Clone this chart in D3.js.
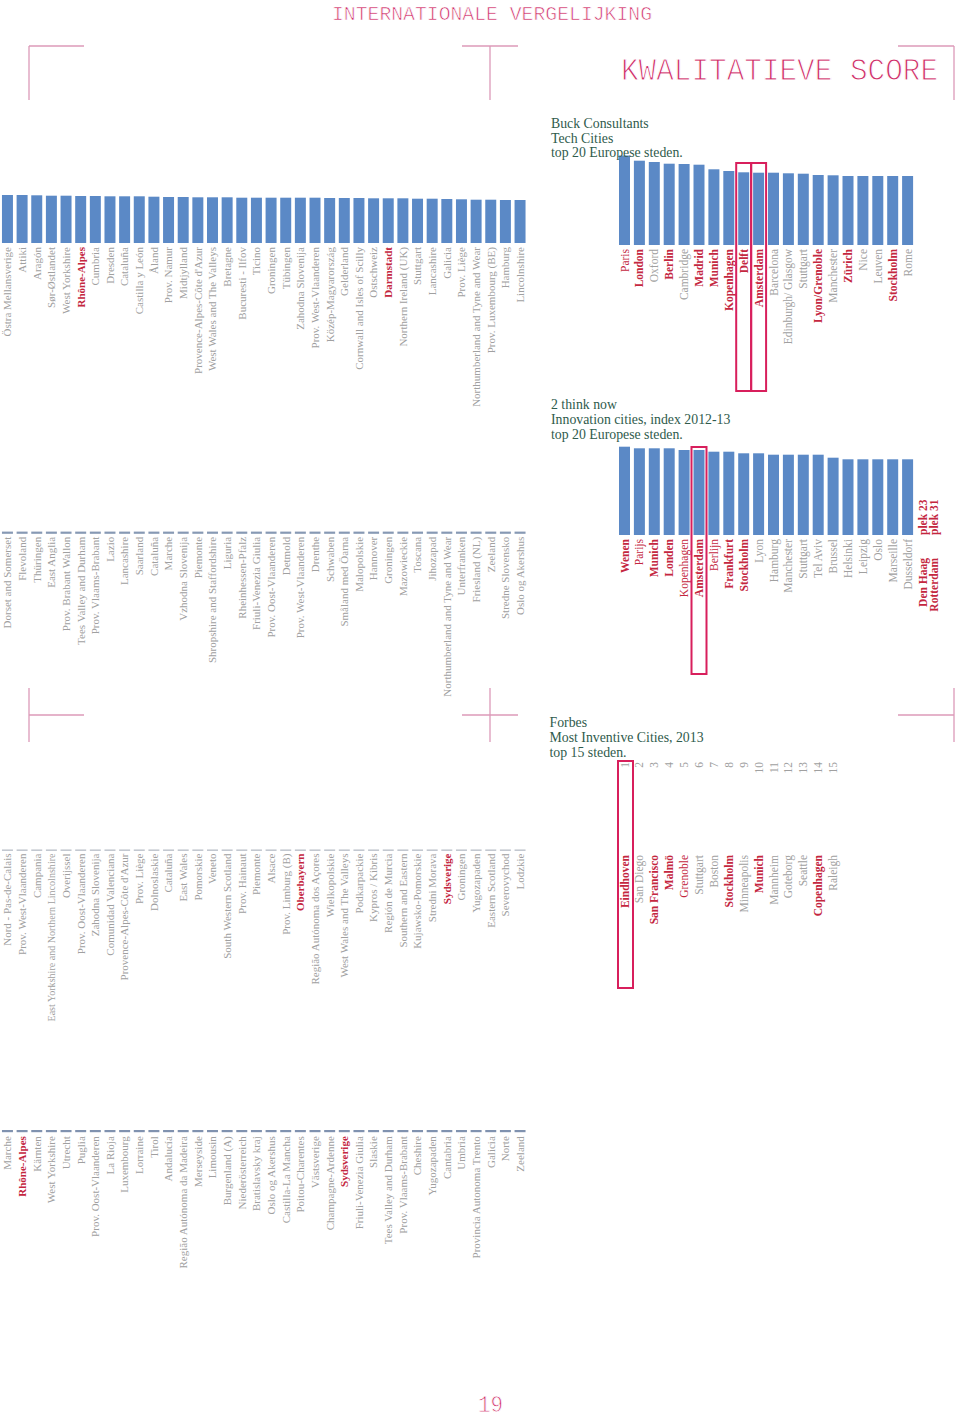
<!DOCTYPE html>
<html><head><meta charset="utf-8">
<script src="https://cdn.jsdelivr.net/npm/d3@7"></script>
<style>body{margin:0;background:#fff} svg{display:block}</style>
</head><body>
<script>
// ---------------- DATA ----------------
const row1Labels = ["Östra Mellansverige","Attiki","Aragón","Sør-Østlandet","West Yorkshire","Rhône-Alpes","Cumbria","Dresden","Cataluña","Castilla y León","Åland","Prov. Namur","Midtjylland","Provence-Alpes-Côte d'Azur","West Wales and The Valleys","Bretagne","Bucuresti - Ilfov","Ticino","Groningen","Tübingen","Zahodna Slovenija","Prov. West-Vlaanderen","Közép-Magyarország","Gelderland","Cornwall and Isles of Scilly","Ostschweiz","Darmstadt","Northern Ireland (UK)","Stuttgart","Lancashire","Galicia","Prov. Liège","Northumberland and Tyne and Wear","Prov. Luxembourg (BE)","Hamburg","Lincolnshire"];
const row1Values = [48,48,47.7,47.3,47.3,47,47,46.7,46.7,46.7,46.3,46,46,45.7,45.7,45.7,45.3,45.3,45.3,45.3,45.3,45.3,45,45,45,44.7,44.7,44.7,44.3,44.3,44,43.7,43.3,43.3,43,43];

const row2Labels = ["Dorset and Somerset","Flevoland","Thüringen","East Anglia","Prov. Brabant Wallon","Tees Valley and Durham","Prov. Vlaams-Brabant","Lazio","Lancashire","Saarland","Cataluña","Marche","Vzhodna Slovenija","Piemonte","Shropshire and Staffordshire","Liguria","Rheinhessen-Pfalz","Friuli-Venezia Giulia","Prov. Oost-Vlaanderen","Detmold","Prov. West-Vlaanderen","Drenthe","Schwaben","Småland med Öarna","Malopolskie","Hannover","Groningen","Mazowieckie","Toscana","Jihozapad","Northumberland and Tyne and Wear","Unterfranken","Friesland (NL)","Zeeland","Stredne Slovensko","Oslo og Akershus"];
const row2Values = [2.2,2.2,2.2,2.2,2.2,2.2,2.2,2.2,2.2,2.2,2.2,2.2,2.2,2.2,2.2,2.2,2.2,2.2,2.2,2.2,2.2,2.2,2.2,2.2,2.2,2.2,2.2,2.2,2.2,2.2,2.2,2.2,2.2,2.2,2.2,2.2];

const row3Labels = ["Nord - Pas-de-Calais","Prov. West-Vlaanderen","Campania","East Yorkshire and Northern Lincolnshire","Overijssel","Prov. Oost-Vlaanderen","Zahodna Slovenija","Comunidad Valenciana","Provence-Alpes-Côte d'Azur","Prov. Liège","Dolnoslaskie","Cataluña","East Wales","Pomorskie","Veneto","South Western Scotland","Prov. Hainaut","Piemonte","Alsace","Prov. Limburg (B)","Oberbayern","Região Autónoma dos Açores","Wielkopolskie","West Wales and The Valleys","Podkarpackie","Kypros / Kibris","Región de Murcia","Southern and Eastern","Kujawsko-Pomorskie","Stredni Morava","Sydsverige","Groningen","Yugozapaden","Eastern Scotland","Severovychod","Lodzkie"];
const row3Values = [1.6,1.6,1.6,1.6,1.6,1.6,1.6,1.6,1.6,1.6,1.6,1.6,1.6,1.6,1.6,1.6,1.6,1.6,1.6,1.6,1.6,1.6,1.6,1.6,1.6,1.6,1.6,1.6,1.6,1.6,1.6,1.6,1.6,1.6,1.6,1.6];

const row4Labels = ["Marche","Rhône-Alpes","Kärnten","West Yorkshire","Utrecht","Puglia","Prov. Oost-Vlaanderen","La Rioja","Luxembourg","Lorraine","Tirol","Andalucía","Região Autónoma da Madeira","Merseyside","Limousin","Burgenland (A)","Niederösterreich","Bratislavsky kraj","Oslo og Akershus","Castilla-La Mancha","Poitou-Charentes","Västsverige","Champagne-Ardenne","Sydsverige","Friuli-Venezia Giulia","Slaskie","Tees Valley and Durham","Prov. Vlaams-Brabant","Cheshire","Yugozapaden","Cantabria","Umbria","Provincia Autonoma Trento","Galicia","Norte","Zeeland"];
const row4Values = [2.2,2.2,2.2,2.2,2.2,2.2,2.2,2.2,2.2,2.2,2.2,2.2,2.2,2.2,2.2,2.2,2.2,2.2,2.2,2.2,2.2,2.2,2.2,2.2,2.2,2.2,2.2,2.2,2.2,2.2,2.2,2.2,2.2,2.2,2.2,2.2];

const leftHighlighted = ["Rhône-Alpes","Darmstadt","Oberbayern","Sydsverige"];

const buckTitle = ["Buck Consultants","Tech Cities","top 20 Europese steden."];
const buckCities = ["Paris","London","Oxford","Berlin","Cambridge","Madrid","Munich","Kopenhagen","Delft","Amsterdam","Barcelona","Edinburgh/ Glasgow","Stuttgart","Lyon/Grenoble","Manchester","Zürich","Nice","Leuven","Stockholm","Rome"];
const buckValues = [89.5,84.3,83,81.3,81,80.3,75.7,74,72.7,72.3,72.3,71.7,71.3,70,69.7,69,69,69,69,69];
const buckRedPlain = ["Paris"];
const buckRedBold = ["London","Berlin","Madrid","Munich","Kopenhagen","Delft","Amsterdam","Lyon/Grenoble","Zürich","Stockholm"];
const buckBoxed = ["Delft","Amsterdam"];

const thinkTitle = ["2 think now","Innovation cities, index 2012-13","top 20 Europese steden."];
const thinkCities = ["Wenen","Parijs","Munich","Londen","Kopenhagen","Amsterdam","Berlijn","Frankfurt","Stockholm","Lyon","Hamburg","Manchester","Stuttgart","Tel Aviv","Brussel","Helsinki","Leipzig","Oslo","Marseille","Dusseldorf"];
const thinkValues = [88.3,86.7,86.7,86.7,85,85,83.3,83.3,81.7,81.7,80.3,80.3,80.3,80.3,77.3,75.7,75.7,75.7,75.7,75.7];
const thinkRedPlain = ["Parijs","Kopenhagen","Berlijn"];
const thinkRedBold = ["Wenen","Munich","Londen","Amsterdam","Frankfurt","Stockholm"];
const thinkBoxed = ["Amsterdam"];
const thinkExtraRanks = ["plek 23","plek 31"];
const thinkExtraCities = ["Den Haag","Rotterdam"];

const forbesTitle = ["Forbes","Most Inventive Cities, 2013","top 15 steden."];
const forbesRanks = ["1","2","3","4","5","6","7","8","9","10","11","12","13","14","15"];
const forbesCities = ["Eindhoven","San Diego","San Francisco","Malmö","Grenoble","Stuttgart","Boston","Stockholm","Minneapolis","Munich","Mannheim","Goteborg","Seattle","Copenhagen","Raleigh"];
const forbesRedPlain = ["Grenoble"];
const forbesRedBold = ["Eindhoven","San Francisco","Malmö","Stockholm","Munich","Copenhagen"];
const forbesBoxed = ["Eindhoven"];

const header = "INTERNATIONALE VERGELIJKING";
const pageTitle = "KWALITATIEVE SCORE";
const pageNumber = "19";

// ---------------- STYLE ----------------
const W = 960, H = 1419;
const PINK = "#cf2f68", LINE = "#dc9ab8", BLUE = "#5b89c6", GREY = "#a0a0a0",
      RED = "#c4273f", GREEN = "#2f5b4c", BOX = "#d81f5c";
const SERIF = "'Liberation Serif','Times New Roman',serif";
const MONO = "'Liberation Mono','DejaVu Sans Mono',monospace";

const svg = d3.select("body").append("svg").attr("width", W).attr("height", H);

// header texts (thinned with a white outline drawn over the glyphs)
function thinText(x, y, size, len, txt, anchor) {
  svg.append("text").attr("x", x).attr("y", y).attr("font-family", MONO).attr("font-size", size)
    .attr("text-anchor", anchor || "start")
    .attr("fill", PINK).attr("stroke", "#fff").attr("stroke-width", size * 0.035)
    .attr("textLength", len).attr("lengthAdjust", "spacingAndGlyphs").text(txt);
}
thinText(332, 20, 20, 320, header);
thinText(621, 80, 31, 317, pageTitle);
thinText(478, 1412, 23, 25, pageNumber);

// crop marks
const marks = svg.append("g").attr("stroke", LINE).attr("stroke-width", 1.3).attr("fill", "none");
function seg(x1, y1, x2, y2) { marks.append("line").attr("x1", x1).attr("y1", y1).attr("x2", x2).attr("y2", y2); }
seg(29, 46, 84, 46); seg(29, 46, 29, 100);
seg(462, 46, 518, 46); seg(490, 46, 490, 100);
seg(898, 46, 954, 46); seg(954, 46, 954, 100);
seg(29, 715, 84, 715); seg(29, 688, 29, 742);
seg(462, 715, 518, 715); seg(490, 688, 490, 742);
seg(898, 715, 954, 715); seg(954, 688, 954, 742);

// ---------------- LEFT ROWS ----------------
function leftRow(labels, values, base, fill, gap) {
  const x = d3.scaleBand().domain(d3.range(labels.length)).range([0.5, 527]).paddingInner(0.25).paddingOuter(0.1);
  const y = d3.scaleLinear().domain([0, 100]).range([base, base - 100]);
  const g = svg.append("g");
  g.selectAll("rect").data(values).join("rect")
    .attr("x", (d, i) => x(i)).attr("width", x.bandwidth())
    .attr("y", d => y(d)).attr("height", d => base - y(d)).attr("fill", fill);
  g.selectAll("text").data(labels).join("text")
    .attr("transform", (d, i) => `translate(${x(i) + x.bandwidth() / 2},${base + gap}) rotate(-90)`)
    .attr("dy", "0.35em").attr("text-anchor", "end")
    .attr("font-family", SERIF).attr("font-size", 11)
    .attr("font-weight", d => leftHighlighted.includes(d) ? "bold" : "normal")
    .attr("fill", d => leftHighlighted.includes(d) ? RED : GREY)
    .text(d => d)
    .each(function () {
      const len = this.getComputedTextLength();
      if (len > 170) d3.select(this).attr("textLength", 168).attr("lengthAdjust", "spacingAndGlyphs");
    });
}
leftRow(row1Labels, row1Values, 243, BLUE, 4);
leftRow(row2Labels, row2Values, 533.8, "#8799b4", 3);
leftRow(row3Labels, row3Values, 851, "#c3c8d0", 2.5);
leftRow(row4Labels, row4Values, 1132.2, "#8092af", 4);

// ---------------- RIGHT CHARTS ----------------
function titleBlock(lines, x, y0, lh) {
  const t = svg.append("text").attr("font-family", SERIF).attr("font-size", 13.8).attr("fill", GREEN);
  lines.forEach((l, i) => t.append("tspan").attr("x", x).attr("y", y0 + i * lh).text(l));
}
function labelStyle(sel, redPlain, redBold) {
  sel.attr("font-family", SERIF).attr("font-size", 11.5)
    .attr("font-weight", d => redBold.includes(d) ? "bold" : "normal")
    .attr("fill", d => (redBold.includes(d) || redPlain.includes(d)) ? RED : GREY);
}
function rightScale(n) {
  const step = 14.9, pad = 0.262;
  return d3.scaleBand().domain(d3.range(n)).range([619, 619 + step * (n - pad)]).paddingInner(pad).paddingOuter(0);
}

function barChart(cities, values, redPlain, redBold, boxed, base, boxTop, boxBottom) {
  const x = rightScale(cities.length);
  const y = d3.scaleLinear().domain([0, 100]).range([base, base - 100]);
  const g = svg.append("g");
  g.selectAll("rect.bar").data(values).join("rect").attr("class", "bar")
    .attr("x", (d, i) => x(i)).attr("width", x.bandwidth())
    .attr("y", d => y(d)).attr("height", d => base - y(d)).attr("fill", BLUE);
  g.selectAll("text").data(cities).join("text")
    .attr("transform", (d, i) => `translate(${x(i) + x.bandwidth() / 2},${base + 4}) rotate(-90)`)
    .attr("dy", "0.35em").attr("text-anchor", "end").text(d => d)
    .call(labelStyle, redPlain, redBold);
  g.selectAll("rect.box").data(boxed).join("rect").attr("class", "box")
    .attr("x", d => x(cities.indexOf(d)) - 2).attr("width", x.bandwidth() + 4)
    .attr("y", boxTop).attr("height", boxBottom - boxTop)
    .attr("fill", "none").attr("stroke", BOX).attr("stroke-width", 2);
  return x;
}

// Chart A
barChart(buckCities, buckValues, buckRedPlain, buckRedBold, buckBoxed, 245, 163, 391);
titleBlock(buckTitle, 551, 128, 14.5);

// Chart B
const xB = barChart(thinkCities, thinkValues, thinkRedPlain, thinkRedBold, thinkBoxed, 535, 447, 674);
titleBlock(thinkTitle, 551, 408.5, 15);
const extraX = [xB(19) + xB.step() + xB.bandwidth() / 2, xB(19) + xB.step() + xB.bandwidth() / 2 + 11];
svg.append("g").selectAll("text").data(thinkExtraRanks).join("text")
  .attr("transform", (d, i) => `translate(${extraX[i]},535) rotate(-90)`)
  .attr("dy", "0.35em").attr("text-anchor", "start").text(d => d)
  .attr("font-family", SERIF).attr("font-size", 11.5).attr("font-weight", "bold").attr("fill", RED);
svg.append("g").selectAll("text").data(thinkExtraCities).join("text")
  .attr("transform", (d, i) => `translate(${extraX[i]},558) rotate(-90)`)
  .attr("dy", "0.35em").attr("text-anchor", "end").text(d => d)
  .attr("font-family", SERIF).attr("font-size", 11.5).attr("font-weight", "bold").attr("fill", RED);

// Chart C (ranking list)
{
  const x = rightScale(forbesCities.length);
  const g = svg.append("g");
  g.selectAll("text.rank").data(forbesRanks).join("text").attr("class", "rank")
    .attr("transform", (d, i) => `translate(${x(i) + x.bandwidth() / 2},762) rotate(-90)`)
    .attr("dy", "0.35em").attr("text-anchor", "end").text(d => d)
    .attr("font-family", SERIF).attr("font-size", 11.5).attr("fill", GREY);
  g.selectAll("text.city").data(forbesCities).join("text").attr("class", "city")
    .attr("transform", (d, i) => `translate(${x(i) + x.bandwidth() / 2},855) rotate(-90)`)
    .attr("dy", "0.35em").attr("text-anchor", "end").text(d => d)
    .call(labelStyle, forbesRedPlain, forbesRedBold);
  g.selectAll("rect.box").data(forbesBoxed).join("rect").attr("class", "box")
    .attr("x", d => x(forbesCities.indexOf(d)) - 1).attr("width", x.bandwidth() + 4)
    .attr("y", 761).attr("height", 988 - 761)
    .attr("fill", "none").attr("stroke", BOX).attr("stroke-width", 2);
  titleBlock(forbesTitle, 549.5, 726.5, 15);
}
</script>
</body></html>
